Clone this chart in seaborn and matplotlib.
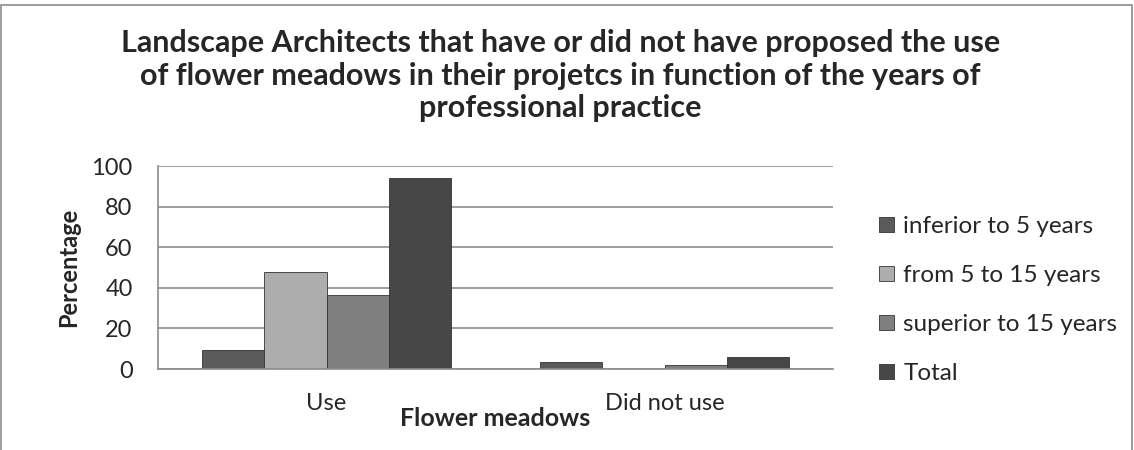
import pandas as pd
import numpy as np
import matplotlib
matplotlib.use("Agg")
import matplotlib.pyplot as plt
import seaborn as sns
from matplotlib.patches import Rectangle

# =========================
# DATA
# =========================

categories = ["Use", "Did not use"]
groups = ["inferior to 5 years", "from 5 to 15 years", "superior to 15 years", "Total"]

inferior = [9.2, 3.4]
from_5_15 = [47.6, 0.0]
superior = [36.3, 2.0]
total = [93.9, 5.8]

colors = ["#5a5a5a", "#adadad", "#7f7f7f", "#474747"]

df = pd.DataFrame({
    "Flower meadows": categories * 4,
    "Group": [g for g in groups for _ in categories],
    "Percentage": inferior + from_5_15 + superior + total,
})

# =========================
# PLOT
# =========================

sns.set_style("white")
plt.rcParams["font.family"] = ["Lato", "DejaVu Sans"]

fig = plt.figure(figsize=(11.34, 4.5), dpi=100)
ax = fig.add_axes([0.139, 0.18, 0.596, 0.451])

sns.barplot(
    data=df,
    x="Flower meadows",
    y="Percentage",
    hue="Group",
    hue_order=groups,
    order=categories,
    palette=colors,
    width=0.735,
    edgecolor="#333333",
    linewidth=0.6,
    saturation=1,
    ax=ax,
)

ax.set_ylim(0, 100)
ax.set_yticks(range(0, 101, 20))
ax.yaxis.grid(True, color="#8c8c8c", linewidth=1.2)
ax.set_axisbelow(True)

for side in ["top", "right"]:
    ax.spines[side].set_visible(False)
ax.spines["left"].set_color("#8c8c8c")
ax.spines["bottom"].set_color("#8c8c8c")
ax.spines["left"].set_linewidth(1.2)
ax.spines["bottom"].set_linewidth(1.2)

ax.tick_params(axis="y", length=6, color="#8c8c8c", width=1.2, labelsize=17, pad=12)
ax.tick_params(axis="x", length=0, labelsize=17, pad=17)

ax.set_xlabel("Flower meadows", fontsize=18, fontweight="bold", labelpad=-5)
ax.set_ylabel("Percentage", fontsize=17, fontweight="bold", labelpad=8)

fig.suptitle(
    "Landscape Architects that have or did not have proposed the use\n"
    "of flower meadows in their projetcs in function of the years of\n"
    "professional practice",
    x=0.494, y=0.935, fontsize=22, fontweight="bold", linespacing=1.2,
)

ax.legend(
    loc="center left",
    bbox_to_anchor=(1.035, 0.34),
    frameon=False,
    fontsize=17.5,
    handlelength=0.6,
    handleheight=0.6,
    handletextpad=0.4,
    labelspacing=1.15,
)

# chart border
fig.patches.append(Rectangle((0.001, -0.01), 0.997, 1.0, transform=fig.transFigure,
                             fill=False, edgecolor="#8c8c8c", linewidth=1.2))

plt.savefig("out.png", dpi=100)
